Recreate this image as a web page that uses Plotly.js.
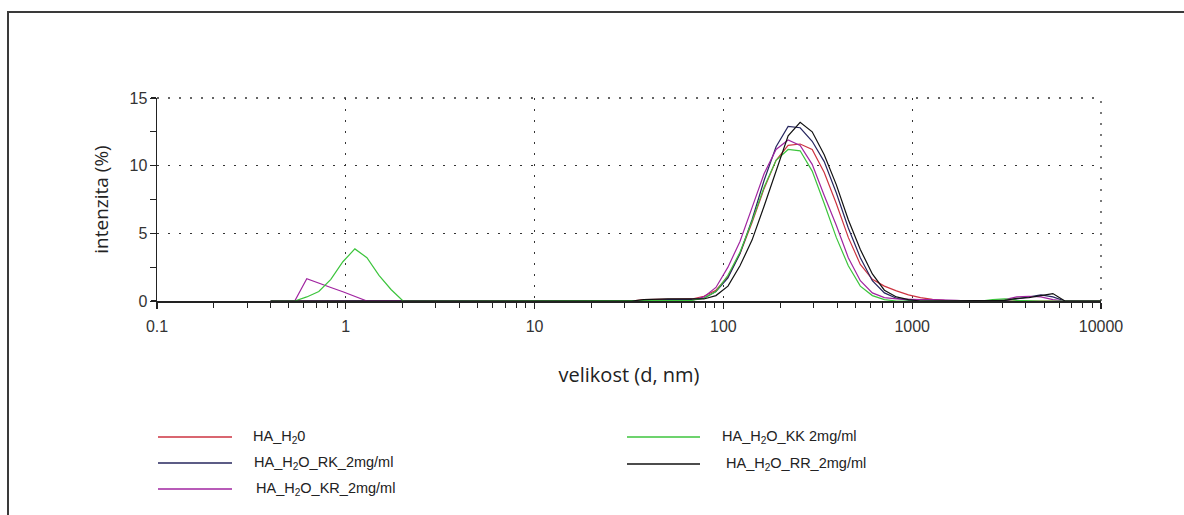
<!DOCTYPE html>
<html>
<head>
<meta charset="utf-8">
<script src="https://cdn.plot.ly/plotly-3.0.1.min.js"></script>
<style>
  html, body { margin: 0; padding: 0; background: #fff; overflow: hidden; }
  #chart { width: 1184px; height: 515px; }
</style>
</head>
<body>
<div id="chart"></div>
<script>
// Size bins (d, nm)
const sizes = [0.4, 0.4632, 0.5365, 0.6213, 0.7195, 0.8332, 0.9649, 1.117, 1.294, 1.499,
  1.736, 2.01, 2.328, 2.696, 3.122, 3.615, 4.187, 4.849, 5.615, 6.503,
  7.531, 8.721, 10.1, 11.7, 13.54, 15.69, 18.17, 21.04, 24.36, 28.21,
  32.67, 37.84, 43.82, 50.75, 58.77, 68.06, 78.82, 91.28, 105.7, 122.4,
  141.8, 164.2, 190.1, 220.2, 255, 295.3, 342, 396.1, 458.7, 531.2,
  615.1, 712.4, 825, 955.4, 1106, 1281, 1484, 1718, 1990, 2305,
  2669, 3091, 3580, 4145, 4801, 5560, 6439, 7456, 8635, 10000];

// Intensity (%) per size bin
const ha_h2o = [0, 0, 0, 0, 0, 0, 0, 0, 0, 0,
  0, 0, 0, 0, 0, 0, 0, 0, 0, 0,
  0, 0, 0, 0, 0, 0, 0, 0, 0, 0,
  0, 0.1, 0.1, 0.1, 0.1, 0.15, 0.35, 0.8, 1.8, 3.5,
  5.8, 8.3, 10.4, 11.5, 11.6, 11.2, 9.5, 7.2, 4.7, 2.7,
  1.6, 1.1, 0.75, 0.45, 0.25, 0.12, 0.05, 0, 0, 0,
  0, 0, 0, 0.05, 0.05, 0, 0, 0, 0, 0];

const ha_h2o_rk = [0, 0, 0, 0, 0, 0, 0, 0, 0, 0,
  0, 0, 0, 0, 0, 0, 0, 0, 0, 0,
  0, 0, 0, 0, 0, 0, 0, 0, 0, 0,
  0, 0, 0.05, 0.1, 0.1, 0.1, 0.2, 0.7, 1.7, 3.5,
  6.0, 8.9, 11.4, 12.9, 12.8, 11.8, 10.3, 8.0, 5.4, 3.2,
  1.5, 0.6, 0.2, 0.05, 0, 0, 0, 0, 0, 0,
  0, 0.05, 0.15, 0.3, 0.45, 0.3, 0, 0, 0, 0];

const ha_h2o_kr = [0, 0, 0, 1.65, 1.35, 1.0, 0.68, 0.33, 0, 0,
  0, 0, 0, 0, 0, 0, 0, 0, 0, 0,
  0, 0, 0, 0, 0, 0, 0, 0, 0, 0,
  0, 0, 0, 0, 0, 0.05, 0.3, 1.0, 2.5, 4.4,
  6.9, 9.4, 11.2, 11.9, 11.5, 10.1, 7.8, 5.6, 3.2, 1.5,
  0.6, 0.25, 0.15, 0.1, 0.1, 0.1, 0.1, 0.05, 0, 0,
  0.05, 0.1, 0.3, 0.35, 0.3, 0.1, 0, 0, 0, 0];

const ha_h2o_kk = [0, 0, 0, 0.3, 0.7, 1.6, 2.9, 3.85, 3.2, 1.9,
  0.85, 0, 0, 0, 0, 0, 0, 0, 0, 0,
  0, 0, 0, 0, 0, 0, 0, 0, 0, 0,
  0, 0, 0, 0, 0, 0.05, 0.2, 0.7, 1.9, 3.6,
  5.9, 8.4, 10.4, 11.2, 11.1, 9.6, 7.2, 4.7, 2.6, 1.1,
  0.4, 0.1, 0, 0, 0, 0, 0, 0, 0, 0,
  0.1, 0.15, 0.05, 0, 0, 0, 0, 0, 0, 0];

const ha_h2o_rr = [0, 0, 0, 0, 0, 0, 0, 0, 0, 0,
  0, 0, 0, 0, 0, 0, 0, 0, 0, 0,
  0, 0, 0, 0, 0, 0, 0, 0, 0, 0,
  0, 0.1, 0.15, 0.15, 0.15, 0.15, 0.15, 0.4, 1.1, 2.6,
  4.5, 7.0, 9.6, 12.2, 13.2, 12.5, 10.8, 8.6, 6.0, 3.8,
  2.0, 0.8, 0.3, 0.1, 0, 0, 0, 0, 0, 0,
  0, 0.05, 0.2, 0.25, 0.4, 0.55, 0, 0, 0, 0];

const seriesNames = ['HA_H<sub>2</sub>0', 'HA_H<sub>2</sub>O_RK_2mg/ml', 'HA_H<sub>2</sub>O_KR_2mg/ml',
  'HA_H<sub>2</sub>O_KK 2mg/ml', 'HA_H<sub>2</sub>O_RR_2mg/ml'];
const seriesValues = [ha_h2o, ha_h2o_rk, ha_h2o_kr, ha_h2o_kk, ha_h2o_rr];
const seriesColors = ['#cc3340', '#26265e', '#a024a0', '#3cc43c', '#111111'];

const xTickVals = [0.1, 1, 10, 100, 1000, 10000];
const xTickText = ['0.1', '1', '10', '100', '1000', '10000'];
const yTickVals = [0, 5, 10, 15];

// ---- layout helpers (pixel -> paper) ----
const M = {l: 157, r: 83, t: 98, b: 214};
const W = 1184, H = 515;
const PW = W - M.l - M.r, PH = H - M.t - M.b;
const px = x => (x - M.l) / PW;
const py = y => (H - M.b - y) / PH;

// legend placement (pixels): [lineX0, lineX1, y, textX]
const legendPos = [
  [158, 232, 437, 251],
  [158, 232, 463, 252],
  [158, 232, 489, 254],
  [627, 700, 437, 720],
  [627, 700, 464, 724]
];

const minorX = [];
for (let e = -1; e < 4; e++) for (let k = 2; k <= 9; k++) minorX.push(k * Math.pow(10, e));

const traces = seriesValues.map((vals, i) => ({
  type: 'scatter', mode: 'lines', x: sizes, y: vals, name: seriesNames[i],
  line: {color: seriesColors[i], width: 1.2}, showlegend: false, hoverinfo: 'x+y+name'
}));

const gridDash = '2px,9px';
const gridColor = '#333';

const shapes = [];
const annotations = [];
legendPos.forEach((p, i) => {
  shapes.push({type: 'line', xref: 'paper', yref: 'paper', x0: px(p[0]), x1: px(p[1]), y0: py(p[2]), y1: py(p[2]),
    line: {color: seriesColors[i], width: 1.5}});
  annotations.push({xref: 'paper', yref: 'paper', x: px(p[3]), y: py(p[2]), xanchor: 'left', yanchor: 'middle',
    text: seriesNames[i], showarrow: false, font: {family: 'Liberation Sans, Arial, sans-serif', size: 14.5, color: '#222'}});
});
// dotted grid at the top (15) and right edge (10000), which Plotly clips at the axis ends
shapes.push({type: 'line', xref: 'paper', yref: 'paper', x0: 0, x1: 1, y0: 1, y1: 1, layer: 'below',
  line: {color: gridColor, width: 1.3, dash: gridDash}});
shapes.push({type: 'line', xref: 'paper', yref: 'paper', x0: 1, x1: 1, y0: 0, y1: 1, layer: 'below',
  line: {color: gridColor, width: 1.3, dash: gridDash}});
// outer frame (top and left)
shapes.push({type: 'path', xref: 'paper', yref: 'paper',
  path: `M ${px(8)} ${py(530)} L ${px(8)} ${py(12)} L ${px(1200)} ${py(12)}`,
  line: {color: '#3a3a3a', width: 2}});

const layout = {
  width: W, height: H,
  margin: M,
  paper_bgcolor: '#fff', plot_bgcolor: '#fff',
  showlegend: false,
  xaxis: {
    type: 'log', range: [-1, 4],
    tickmode: 'array', tickvals: xTickVals, ticktext: xTickText,
    ticks: 'outside', ticklen: 6, tickwidth: 1.2, tickcolor: '#222',
    ticklabelstandoff: 4,
    minor: {tickvals: minorX, ticks: 'outside', ticklen: 5, tickwidth: 1, tickcolor: '#222', showgrid: false},
    showline: true, linecolor: '#222', linewidth: 1.5,
    showgrid: true, gridcolor: gridColor, gridwidth: 1.3, griddash: gridDash,
    zeroline: false,
    tickfont: {family: 'Liberation Sans, Arial, sans-serif', size: 16, color: '#333'},
    title: {text: 'velikost (d, nm)', standoff: 34,
      font: {family: 'Open Sans, sans-serif', size: 20, color: '#222'}}
  },
  yaxis: {
    range: [0, 15],
    tickmode: 'array', tickvals: yTickVals,
    ticks: 'outside', ticklen: 5, tickwidth: 1.2, tickcolor: '#222',
    minor: {dtick: 2.5, ticks: 'outside', ticklen: 6, tickwidth: 1, tickcolor: '#222', showgrid: false},
    showline: true, linecolor: '#222', linewidth: 1.5,
    showgrid: true, gridcolor: gridColor, gridwidth: 1.3, griddash: gridDash,
    zeroline: false,
    tickfont: {family: 'Liberation Sans, Arial, sans-serif', size: 16, color: '#333'},
    title: {text: 'intenzita (%)', standoff: 16,
      font: {family: 'Open Sans, sans-serif', size: 19, color: '#222'}}
  },
  shapes: shapes,
  annotations: annotations
};

Plotly.newPlot('chart', traces, layout, {staticPlot: true, displayModeBar: false});
</script>
</body>
</html>
